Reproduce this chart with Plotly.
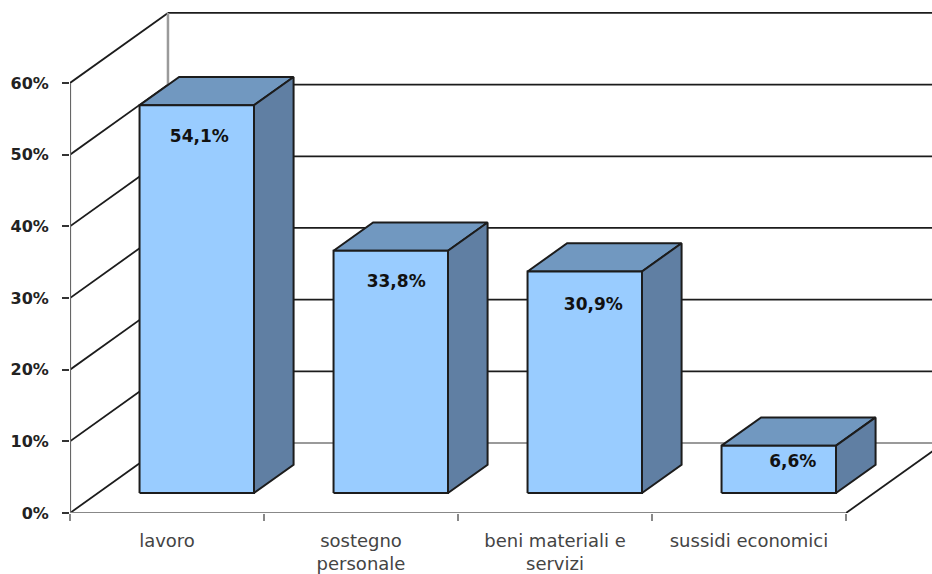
import plotly.graph_objects as go

categories = ["lavoro", "sostegno<br>personale", "beni materiali e<br>servizi", "sussidi economici"]
values = [54.1, 33.8, 30.9, 6.6]
value_labels = ["54,1%", "33,8%", "30,9%", "6,6%"]
y_ticks = [0, 10, 20, 30, 40, 50, 60]
y_tick_labels = ["0%", "10%", "20%", "30%", "40%", "50%", "60%"]

# Oblique projection, in axis units: depth adds (dx, dy) to a point on the floor.
WALL_DX, WALL_DY = 0.505, 9.77
BAR_FRONT = 0.286      # fraction of wall depth where the bar front stands
BAR_BACK = 0.69        # fraction of wall depth where the bar back stands
BAR_GAP, BAR_WIDTH = 0.214, 0.59
X_MAX, Y_MAX = 862 / 194, 513 / 7.167

# Label nudges from the centre of each bar's front face (x units, y units below top)
label_dx = [0.013, 0.028, 0.044, 0.072]
label_dy = [4.6, 4.5, 4.8, 2.4]

FRONT, TOP, SIDE = "#99CCFF", "#7198C0", "#607FA3"
DARK, GREY = "#1c1c1c", "#9a9a9a"
FONT = "DejaVu Sans"

fig = go.Figure()


def line(xs, ys, color=DARK, width=1.8, clip=True):
    fig.add_trace(go.Scatter(x=xs, y=ys, mode="lines", hoverinfo="skip", showlegend=False,
                             line=dict(color=color, width=width), cliponaxis=clip))


def face(xs, ys, color):
    fig.add_trace(go.Scatter(x=xs, y=ys, mode="lines", fill="toself", fillcolor=color,
                             hoverinfo="skip", showlegend=False,
                             line=dict(color=DARK, width=2)))


# Walls and floor of the chart box
for t in y_ticks:
    color = GREY if t == 0 else DARK
    line([WALL_DX, X_MAX + 0.2], [t + WALL_DY, t + WALL_DY], color=color)
    line([0, WALL_DX], [t, t + WALL_DY])
line([WALL_DX, WALL_DX], [WALL_DY, y_ticks[-1] + WALL_DY], color=GREY, width=2.5)
line([len(categories), len(categories) + WALL_DX], [0, WALL_DY])
line([0, 0], [0, y_ticks[-1]], color="#666666", width=2.2, clip=False)
line([0, len(categories)], [0, 0], color="#888888", width=2.2, clip=False)

# Bars: top and side faces first, then the front
fx, fy = WALL_DX * BAR_FRONT, WALL_DY * BAR_FRONT
bx, by = WALL_DX * BAR_BACK, WALL_DY * BAR_BACK
for i, v in enumerate(values):
    x0 = i + BAR_GAP
    x1 = x0 + BAR_WIDTH
    face([x0 + fx, x1 + fx, x1 + bx, x0 + bx, x0 + fx],
         [v + fy, v + fy, v + by, v + by, v + fy], TOP)
    face([x1 + fx, x1 + bx, x1 + bx, x1 + fx, x1 + fx],
         [fy, by, v + by, v + fy, fy], SIDE)
    face([x0 + fx, x1 + fx, x1 + fx, x0 + fx, x0 + fx],
         [fy, fy, v + fy, v + fy, fy], FRONT)

# Value labels on the front faces
fig.add_trace(go.Scatter(
    x=[i + BAR_GAP + BAR_WIDTH / 2 + fx + d for i, d in enumerate(label_dx)],
    y=[v + fy - d for v, d in zip(values, label_dy)],
    text=[f"<b>{s}</b>" for s in value_labels],
    mode="text", textposition="middle center", hoverinfo="skip", showlegend=False,
    textfont=dict(family=FONT, size=17, color="#111111"),
))

fig.update_layout(
    width=932, height=574,
    margin=dict(l=70, r=0, t=0, b=61),
    paper_bgcolor="white", plot_bgcolor="white",
    showlegend=False,
    xaxis=dict(
        range=[0, X_MAX], showgrid=False, zeroline=False, showline=False,
        tickmode="array", tickvals=[i + 0.5 for i in range(len(categories))],
        ticktext=categories, ticks="", tickangle=0, ticklabelstandoff=15,
        tickfont=dict(family=FONT, size=18, color="#444444"),
        minor=dict(tickmode="array", tickvals=list(range(len(categories) + 1)),
                   ticks="outside", ticklen=7, tickcolor="#888888", tickwidth=2, showgrid=False),
    ),
    yaxis=dict(
        range=[0, Y_MAX], showgrid=False, zeroline=False, showline=False,
        tickmode="array", tickvals=y_ticks,
        ticktext=[f"<b>{s}</b>" for s in y_tick_labels],
        ticks="outside", ticklen=7, tickcolor="#333333", tickwidth=1.5,
        ticklabelstandoff=10,
        tickfont=dict(family=FONT, size=16, color="#222222"),
    ),
)

fig.write_html("out.html")
